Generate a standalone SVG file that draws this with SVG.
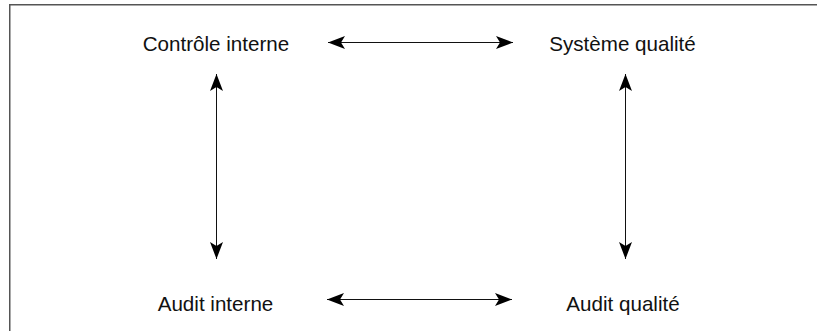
<svg xmlns="http://www.w3.org/2000/svg" width="817" height="331" viewBox="0 0 817 331">
<style>
.lbl{font-family:"Liberation Sans",Arial,sans-serif;font-size:20.6px;fill:#111;text-anchor:middle}
.conn{stroke:#111;stroke-width:1;fill:none}
</style>
<defs>
<marker id="ah" markerUnits="userSpaceOnUse" viewBox="0 0 17 13" refX="17" refY="6.5" markerWidth="17" markerHeight="13" orient="auto-start-reverse">
<path d="M0,0 L17,6.5 L0,13 L4,6.5 Z" fill="#000"/>
</marker>
</defs>
<rect x="9.75" y="4.75" width="830" height="340" fill="#fff" stroke="#555" stroke-width="1.5"/>
<g id="controle-interne"><text class="lbl" x="216" y="51">Contrôle interne</text></g>
<g id="systeme-qualite"><text class="lbl" x="622.5" y="51">Système qualité</text></g>
<g id="audit-interne"><text class="lbl" x="215.5" y="311">Audit interne</text></g>
<g id="audit-qualite"><text class="lbl" x="623" y="311">Audit qualité</text></g>
<g id="connectors">
<path class="conn" d="M328,42.5 H513" marker-start="url(#ah)" marker-end="url(#ah)"/>
<path class="conn" d="M327,299.5 H512" marker-start="url(#ah)" marker-end="url(#ah)"/>
<path class="conn" d="M216.5,74 V259" marker-start="url(#ah)" marker-end="url(#ah)"/>
<path class="conn" d="M625.5,74 V259" marker-start="url(#ah)" marker-end="url(#ah)"/>
</g>
</svg>
